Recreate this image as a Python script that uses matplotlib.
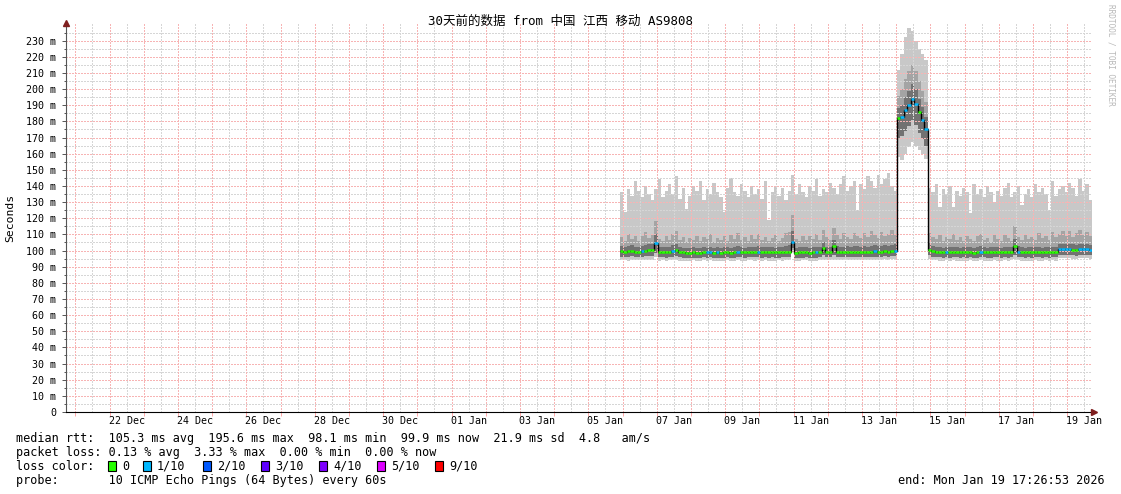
import numpy as np
import matplotlib
matplotlib.use("Agg")
import matplotlib.pyplot as plt
from matplotlib.patches import Rectangle

# ---------------- data ----------------
# time axis in days after the graph start (Sat Dec 20 17:26:53), 30 days wide
sample_start = 16.2
sample_step = 0.1

median = [99.6, 99.3, 99.5, 99.8, 99.4, 99.2, 99.6, 99.9, 100.2, 100.4,
          104.5, 99.0, 98.9, 99.1, 99.0, 99.6, 100.3, 99.2, 98.8, 98.7,
          98.6, 98.9, 98.5, 98.7, 99.0, 98.8, 99.1, 98.6, 98.9, 98.7,
          98.8, 99.0, 98.7, 98.9, 99.2, 99.0, 98.8, 98.9, 99.1, 99.0,
          99.3, 98.9, 99.0, 98.9, 99.0, 98.8, 98.9, 99.0, 99.1, 99.4,
          105.5, 98.6, 98.8, 98.9, 99.0, 98.7, 98.9, 98.8, 99.0, 101.5,
          99.1, 99.0, 103.0, 99.2, 99.0, 99.1, 99.3, 99.0, 99.2, 99.4,
          99.1, 99.3, 99.0, 99.2, 99.5, 99.1, 99.3, 99.6, 99.4, 99.7,
          100.0,
          182, 183, 187, 190, 194, 191, 186, 181, 175,
          100.5, 99.6, 99.3, 99.0, 98.8, 99.1, 98.9, 99.2, 99.0, 98.8,
          99.0, 98.9, 99.1, 98.7, 98.9, 99.3, 99.0, 98.8, 98.9, 99.1,
          99.0, 98.8, 99.2, 98.9, 99.1, 103.0, 99.3, 99.0, 98.8, 99.0,
          98.9, 99.1, 99.0, 98.8, 99.2, 98.9, 99.1, 99.0, 100.8, 101.0,
          100.9, 100.7, 100.6, 100.5, 100.8, 100.9, 100.7, 100.6]

# lost pings (out of 10) per sample
loss = [0, 0, 0, 0, 0, 0, 1, 0, 0, 0,
        1, 0, 0, 0, 0, 1, 0, 0, 0, 0,
        0, 0, 0, 0, 0, 1, 1, 0, 1, 0,
        0, 0, 0, 0, 1, 0, 0, 0, 0, 0,
        1, 0, 0, 0, 0, 0, 0, 0, 0, 0,
        1, 0, 0, 0, 0, 0, 0, 1, 0, 0,
        0, 0, 0, 0, 0, 0, 0, 0, 0, 0,
        0, 0, 0, 0, 1, 0, 0, 0, 0, 0,
        1,
        0, 1, 1, 1, 1, 1, 0, 1, 1,
        0, 0, 0, 0, 0, 1, 0, 0, 0, 0,
        0, 0, 0, 0, 0, 1, 0, 0, 0, 0,
        0, 0, 0, 0, 0, 0, 1, 0, 0, 0,
        0, 0, 0, 0, 0, 0, 0, 0, 1, 1,
        1, 1, 0, 0, 1, 1, 1, 1]

ping_min = [94.2, 94.0, 93.8, 94.3, 94.1, 93.9, 94.2, 94.0, 94.4, 94.1,
            96.0, 93.8, 94.0, 93.6, 93.9, 94.1, 94.3, 93.8, 93.5, 93.7,
            93.6, 93.9, 93.4, 93.7, 93.9, 93.6, 94.0, 93.5, 93.8, 93.6,
            93.7, 93.9, 93.5, 93.8, 94.0, 93.7, 93.6, 93.9, 94.0, 93.8,
            94.1, 93.7, 93.9, 93.6, 93.8, 93.7, 93.9, 93.8, 94.0, 94.2,
            100.5, 93.6, 93.8, 93.9, 94.0, 93.7, 93.8, 93.6, 93.9, 94.3,
            94.0, 93.9, 94.4, 94.1, 93.9, 94.0, 94.2, 93.9, 94.1, 94.3,
            94.0, 94.2, 93.9, 94.1, 94.4, 94.0, 94.2, 94.5, 94.3, 94.6,
            94.8,
            158, 156, 160, 164, 167, 165, 162, 160, 157,
            95.0, 94.3, 94.0, 93.8, 93.6, 93.9, 93.7, 94.0, 93.8, 93.6,
            93.8, 93.7, 93.9, 93.5, 93.7, 94.0, 93.8, 93.6, 93.7, 93.9,
            93.8, 93.6, 94.0, 93.7, 93.9, 95.0, 94.1, 93.8, 93.6, 93.8,
            93.7, 93.9, 93.8, 93.6, 94.0, 93.7, 93.9, 93.8, 95.2, 95.4,
            95.3, 95.1, 95.0, 94.9, 95.2, 95.3, 95.1, 95.0]

ping_lo = [96.3, 96.0, 95.9, 96.4, 96.1, 95.8, 96.2, 96.5, 96.6, 96.8,
           98.5, 95.8, 95.7, 95.6, 95.9, 96.2, 96.5, 95.9, 95.5, 95.4,
           95.3, 95.6, 95.2, 95.5, 95.8, 95.4, 95.9, 95.3, 95.6, 95.4,
           95.5, 95.8, 95.4, 95.6, 96.0, 95.7, 95.5, 95.7, 95.9, 95.8,
           96.1, 95.6, 95.8, 95.5, 95.7, 95.5, 95.6, 95.8, 95.9, 96.2,
           101.5, 95.3, 95.5, 95.6, 95.8, 95.4, 95.6, 95.5, 95.8, 97.0,
           95.9, 95.7, 97.5, 96.0, 95.8, 95.9, 96.1, 95.8, 96.0, 96.2,
           95.9, 96.1, 95.8, 96.0, 96.3, 95.9, 96.1, 96.4, 96.2, 96.5,
           96.8,
           170, 171, 174, 177, 181, 178, 173, 169, 165,
           97.0, 96.3, 96.0, 95.7, 95.5, 95.8, 95.6, 95.9, 95.7, 95.5,
           95.7, 95.6, 95.8, 95.4, 95.6, 96.0, 95.7, 95.5, 95.6, 95.8,
           95.7, 95.5, 95.9, 95.6, 95.8, 97.5, 96.0, 95.7, 95.5, 95.7,
           95.6, 95.8, 95.7, 95.5, 95.9, 95.6, 95.8, 95.7, 97.2, 97.4,
           97.3, 97.1, 97.0, 96.9, 97.2, 97.3, 97.1, 97.0]

ping_mid = [102.8, 102.3, 102.6, 103.2, 102.5, 102.1, 102.9, 103.4, 103.8, 104.0,
            110.0, 102.2, 101.9, 102.4, 102.1, 103.5, 104.2, 102.3, 101.8, 101.6,
            101.5, 102.0, 101.4, 101.8, 102.3, 101.7, 102.4, 101.6, 102.0, 101.7,
            101.9, 102.3, 101.6, 102.0, 102.7, 102.2, 101.8, 102.0, 102.5, 102.2,
            102.8, 102.0, 102.3, 101.9, 102.1, 101.8, 102.0, 102.3, 102.6, 103.2,
            112.0, 101.6, 101.9, 102.1, 102.3, 101.7, 102.0, 101.9, 102.4, 105.5,
            102.4, 102.2, 106.5, 102.6, 102.3, 102.5, 102.9, 102.4, 102.7, 103.0,
            102.5, 102.9, 102.4, 102.7, 103.2, 102.6, 102.9, 103.4, 103.1, 103.6,
            104.0,
            188, 190, 195, 199, 203, 200, 194, 189, 183,
            104.5, 102.8, 102.4, 102.0, 101.8, 102.3, 101.9, 102.4, 102.1, 101.8,
            102.0, 101.9, 102.3, 101.6, 101.9, 102.6, 102.1, 101.8, 101.9, 102.3,
            102.1, 101.8, 102.5, 101.9, 102.3, 107.0, 102.7, 102.1, 101.8, 102.1,
            101.9, 102.3, 102.1, 101.8, 102.5, 101.9, 102.3, 102.1, 104.0, 104.3,
            104.1, 103.9, 103.8, 103.6, 104.0, 104.2, 103.9, 103.7]

ping_hi = [108.5, 106.2, 110.4, 107.3, 109.1, 105.8, 108.7, 111.2, 107.6, 109.8,
           118.0, 107.1, 105.9, 109.3, 106.8, 110.5, 112.0, 106.4, 108.2, 105.6,
           107.9, 106.3, 109.0, 105.7, 108.4, 106.9, 110.1, 105.4, 107.7, 106.5,
           108.8, 106.0, 109.6, 107.2, 111.0, 106.6, 108.1, 105.9, 109.4, 107.0,
           110.2, 106.4, 108.6, 105.8, 107.5, 109.7, 106.2, 108.0, 110.8, 111.5,
           122.0, 107.3, 105.7, 108.9, 106.5, 109.2, 107.0, 110.3, 106.8, 112.5,
           108.1, 106.7, 114.0, 109.5, 107.4, 110.6, 108.3, 106.9, 111.1, 109.0,
           107.6, 110.9, 108.4, 112.2, 109.6, 107.8, 111.4, 108.8, 110.2, 112.8,
           110.5,
           196, 200, 206, 211, 215, 211, 205, 199, 192,
           111.0, 108.6, 106.9, 109.8, 106.2, 108.5, 107.1, 110.2, 106.6, 108.3,
           105.9, 109.1, 107.3, 105.8, 108.7, 110.4, 106.8, 108.0, 105.6, 109.5,
           107.2, 106.1, 109.9, 107.6, 105.9, 115.0, 108.2, 106.7, 109.4, 107.1,
           108.6, 106.3, 110.7, 107.5, 109.2, 106.8, 111.6, 108.1, 110.3, 112.4,
           109.1, 111.8, 108.5, 110.9, 113.0, 109.7, 111.2, 108.9]

ping_max = [136, 124, 138, 134, 143, 137, 133, 140, 135, 131,
            138, 144, 133, 137, 141, 135, 146, 132, 139, 126,
            134, 140, 137, 143, 131, 138, 135, 142, 136, 133,
            124, 139, 145, 136, 134, 141, 137, 133, 140, 135,
            138, 132, 143, 119, 136, 140, 134, 139, 131, 137,
            147, 135, 141, 136, 133, 140, 137, 144, 134, 138,
            136, 142, 139, 135, 141, 146, 137, 140, 143, 125,
            141, 138, 146, 143, 139, 147, 141, 144, 148, 140,
            137,
            212, 222, 232, 238, 236, 230, 225, 222, 218,
            139, 136, 141, 127, 138, 135, 140, 127, 137, 134,
            139, 136, 123, 141, 135, 138, 133, 140, 136, 130,
            137, 134, 139, 142, 133, 136, 140, 128, 135, 138,
            133, 141, 136, 139, 135, 125, 143, 134, 138, 140,
            136, 142, 139, 134, 144, 137, 141, 131]

loss_names = ["0", "1/10", "2/10", "3/10", "4/10", "5/10", "9/10"]
loss_colors = ["#26ff00", "#00b8ff", "#0059ff", "#5e00ff", "#7e00ff", "#dd00ff", "#ff0000"]

date_labels = ["22 Dec", "24 Dec", "26 Dec", "28 Dec", "30 Dec", "01 Jan", "03 Jan", "05 Jan",
               "07 Jan", "09 Jan", "11 Jan", "13 Jan", "15 Jan", "17 Jan", "19 Jan"]
first_midnight = 0.273   # Dec 21 00:00 in days after graph start
first_label = 1.773      # Dec 22 12:00

stat_lines = ["median rtt:  105.3 ms avg  195.6 ms max  98.1 ms min  99.9 ms now  21.9 ms sd  4.8   am/s",
              "packet loss: 0.13 % avg  3.33 % max  0.00 % min  0.00 % now"]
probe_line = "probe:       10 ICMP Echo Pings (64 Bytes) every 60s"
end_line = "end: Mon Jan 19 17:26:53 2026"
title = "30天前的数据 from 中国 江西 移动 AS9808"

# ---------------- figure ----------------
W, H = 1121, 494
plt.rcParams['font.family'] = ['DejaVu Sans Mono', 'Noto Sans CJK SC']
fig = plt.figure(figsize=(W / 100, H / 100), dpi=100)
ax = fig.add_axes([66 / W, (H - 412) / H, 1026 / W, (412 - 24.5) / H])

def fx(x):
    return x / W

def fy(y):
    return 1 - y / H

n = len(median)
edges = sample_start + sample_step * np.arange(n + 1)

# smoke
ax.stairs(ping_max, edges, baseline=ping_min, fill=True, color="#c8c8c8", lw=0, zorder=1)
ax.stairs(ping_hi, edges, baseline=ping_lo, fill=True, color="#a4a4a4", lw=0, zorder=1)
ax.stairs(ping_mid, edges, baseline=ping_lo, fill=True, color="#727272", lw=0, zorder=1)

# grid (crisp dotted lines, as rrdtool draws them)
red = "#f7b4b4"
grey = "#d6d6d6"
dot = dict(lw=0.75, ls=(0, (1.4, 1.4)), antialiased=False, zorder=2)
for v in range(5, 236, 10):
    ax.axhline(v, color=grey, **dot)
for v in range(10, 231, 10):
    ax.axhline(v, color=red, **dot)
midnights = first_midnight + np.arange(30)
for d in midnights + 0.5:
    ax.axvline(d, color=grey, **dot)
for d in midnights:
    ax.axvline(d, color=red, **dot)

# median line coloured by loss
ax.stairs(median, edges, baseline=None, color="black", lw=1.0, zorder=3)
ax.hlines(median, edges[:-1], edges[1:], colors=[loss_colors[l] for l in loss], lw=1.8, zorder=4)

ax.set_xlim(0, 30)
ax.set_ylim(0, 240)

# axes and ticks
for s in ["top", "right"]:
    ax.spines[s].set_visible(False)
ax.spines["left"].set_color("#555555")
ax.spines["bottom"].set_color("black")
ax.spines["left"].set_zorder(5)
ax.spines["bottom"].set_zorder(5)
ax.set_yticks(range(0, 231, 10))
ax.set_yticklabels(["0"] + [f"{v} m" for v in range(10, 231, 10)], fontsize=7.2)
ax.set_yticks(range(5, 236, 10), minor=True)
ax.tick_params(axis="y", which="major", length=3, width=0.7, direction="out", pad=4, colors="#555555", labelcolor="black")
ax.tick_params(axis="y", which="minor", length=1.5, width=0.7, direction="out", colors="#555555")
ax.set_xticks(midnights)
ax.set_xticklabels([])
ax.set_xticks(first_label + 2 * np.arange(len(date_labels)), minor=True)
ax.set_xticklabels(date_labels, minor=True, fontsize=7.2)
ax.tick_params(axis="x", which="major", length=3, width=0.7, direction="out", colors="#ffaaaa")
ax.tick_params(axis="x", which="minor", length=0, pad=3, labelcolor="black")

# arrows at axis ends
ax.plot([0], [1.005], marker="^", ms=4, color="#7f1f1f", transform=ax.transAxes, clip_on=False, zorder=6)
ax.plot([1.002], [0], marker=">", ms=4, color="#7f1f1f", transform=ax.transAxes, clip_on=False, zorder=6)

# texts
fig.text(fx(560), fy(21), title, ha="center", va="center", fontsize=9.0)
fig.text(fx(10), fy(218), "Seconds", rotation=90, ha="center", va="center", fontsize=8.2)
fig.text(fx(1111), fy(4), "RRDTOOL / TOBI OETIKER", rotation=270, ha="center", va="top",
         fontsize=5.6, color="#b8b8b8")

fs = 8.5
fig.text(fx(16), fy(438), stat_lines[0], ha="left", va="center", fontsize=fs)
fig.text(fx(16), fy(452), stat_lines[1], ha="left", va="center", fontsize=fs)
fig.text(fx(16), fy(466), "loss color:", ha="left", va="center", fontsize=fs)
box_x = [108, 143, 203, 261, 319, 377, 435]
for bx, name, col in zip(box_x, loss_names, loss_colors):
    fig.add_artist(Rectangle((fx(bx), fy(471)), 8 / W, 10 / H, transform=fig.transFigure,
                             facecolor=col, edgecolor="black", lw=0.8))
    fig.text(fx(bx + 14), fy(466), name, ha="left", va="center", fontsize=fs)
fig.text(fx(16), fy(480), probe_line, ha="left", va="center", fontsize=fs)
fig.text(fx(1105), fy(480), end_line, ha="right", va="center", fontsize=fs)

fig.savefig("out.png", dpi=100)
